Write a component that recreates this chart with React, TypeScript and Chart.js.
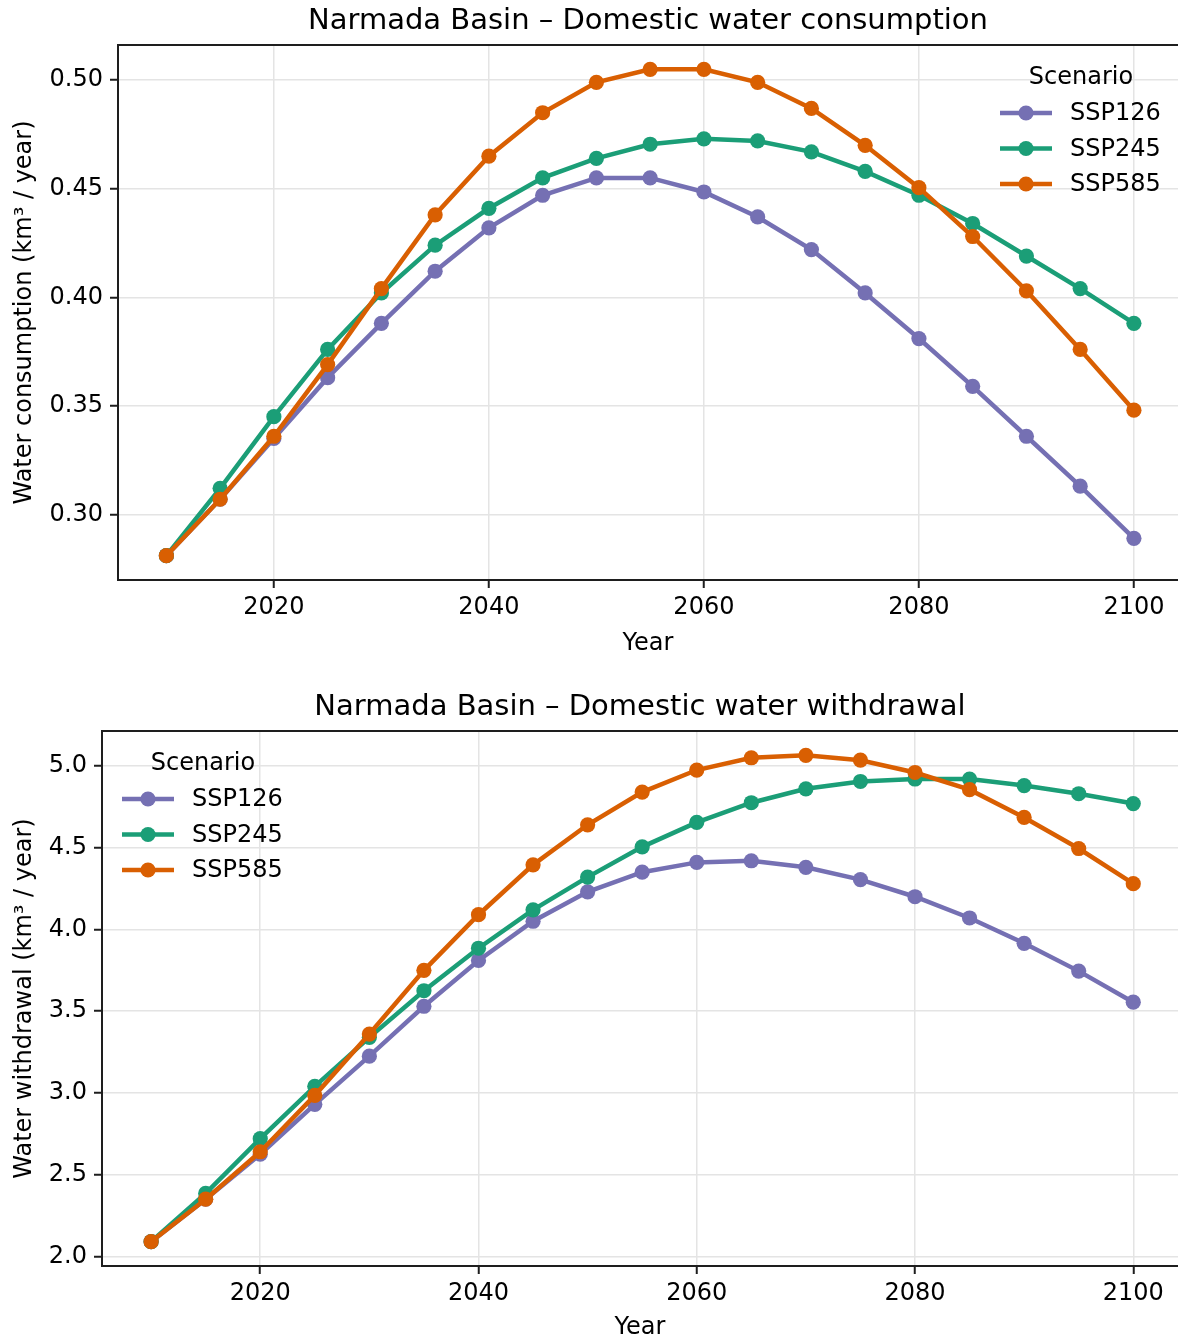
import React, { useEffect, useRef } from "react";
import { Chart, registerables } from "chart.js";

Chart.register(...registerables);

// Projection years and scenario series
const years = [2010, 2015, 2020, 2025, 2030, 2035, 2040, 2045, 2050, 2055, 2060, 2065, 2070, 2075, 2080, 2085, 2090, 2095, 2100];

const consumptionSSP126 = [0.281, 0.307, 0.335, 0.363, 0.388, 0.412, 0.432, 0.447, 0.455, 0.455, 0.4485, 0.437, 0.422, 0.402, 0.381, 0.359, 0.336, 0.313, 0.289];
const consumptionSSP245 = [0.281, 0.312, 0.345, 0.376, 0.402, 0.424, 0.441, 0.455, 0.464, 0.4705, 0.473, 0.472, 0.467, 0.458, 0.447, 0.434, 0.419, 0.404, 0.388];
const consumptionSSP585 = [0.281, 0.307, 0.336, 0.369, 0.404, 0.438, 0.465, 0.485, 0.499, 0.505, 0.505, 0.499, 0.487, 0.47, 0.4505, 0.428, 0.403, 0.376, 0.348];

const withdrawalSSP126 = [2.09, 2.35, 2.625, 2.93, 3.225, 3.53, 3.81, 4.05, 4.23, 4.35, 4.41, 4.42, 4.38, 4.305, 4.2, 4.07, 3.915, 3.745, 3.555];
const withdrawalSSP245 = [2.09, 2.385, 2.72, 3.04, 3.34, 3.625, 3.885, 4.12, 4.32, 4.505, 4.655, 4.775, 4.86, 4.905, 4.92, 4.92, 4.88, 4.83, 4.77];
const withdrawalSSP585 = [2.09, 2.35, 2.64, 2.985, 3.36, 3.75, 4.09, 4.395, 4.64, 4.84, 4.975, 5.05, 5.065, 5.035, 4.96, 4.855, 4.685, 4.495, 4.28];

const scenarioNames = ["SSP126", "SSP245", "SSP585"];
const scenarioColors = ["#7570b3", "#1b9e77", "#d95f02"];

const yearTicks = [2020, 2040, 2060, 2080, 2100];
const consumptionTicks = [0.3, 0.35, 0.4, 0.45, 0.5];
const withdrawalTicks = [2.0, 2.5, 3.0, 3.5, 4.0, 4.5, 5.0];

// Visible year window (the axes run slightly past 2100 to the page edge)
const yearMin = 2005.5;
const yearMax = 2104.1;

const FONT = '"DejaVu Sans", "Noto Sans", sans-serif';
const TEXT = "#000000";
const SPINE = "#1e1e1e";

// Axes frame: top, left and bottom edges
const framePlugin = {
  id: "frame",
  afterDatasetsDraw(chart: any) {
    const { ctx, chartArea: a } = chart;
    ctx.save();
    ctx.strokeStyle = SPINE;
    ctx.lineWidth = 2;
    ctx.beginPath();
    ctx.moveTo(chart.width + 2, a.top);
    ctx.lineTo(a.left, a.top);
    ctx.lineTo(a.left, a.bottom);
    ctx.lineTo(chart.width + 2, a.bottom);
    ctx.stroke();
    ctx.restore();
  },
};

// Scenario legend drawn inside the axes
const scenarioLegendPlugin = {
  id: "scenarioLegend",
  afterDraw(chart: any, _args: any, opts: any) {
    const { ctx, chartArea: a } = chart;
    const start = opts.side === "right" ? 1000 : a.left + 20;
    ctx.save();
    ctx.font = `24px ${FONT}`;
    ctx.fillStyle = TEXT;
    ctx.textBaseline = "middle";
    ctx.textAlign = "center";
    ctx.fillText(opts.title, start + 81, a.top + 33);
    ctx.textAlign = "left";
    chart.data.datasets.forEach((ds: any, i: number) => {
      const y = a.top + 68 + i * 35.5;
      ctx.strokeStyle = ds.borderColor;
      ctx.lineWidth = 4.5;
      ctx.beginPath();
      ctx.moveTo(start, y);
      ctx.lineTo(start + 52, y);
      ctx.stroke();
      ctx.fillStyle = ds.borderColor;
      ctx.beginPath();
      ctx.arc(start + 26, y, 7.6, 0, Math.PI * 2);
      ctx.fill();
      ctx.fillStyle = TEXT;
      ctx.fillText(ds.label, start + 70, y + 1);
    });
    ctx.restore();
  },
};

function paddedRange(series: number[][]) {
  const all = series.flat();
  const lo = Math.min(...all);
  const hi = Math.max(...all);
  const m = (hi - lo) * 0.05;
  return [lo - m, hi + m];
}

interface PanelSpec {
  title: string;
  yTitle: string;
  series: number[][];
  yTicks: number[];
  decimals: number;
  titleTop: number;
  titleBottom: number;
  yWidth: number;
  xHeight: number;
  xTitleBottom: number;
  legendSide: "left" | "right";
}

function buildConfig(p: PanelSpec): any {
  const [yMin, yMax] = paddedRange(p.series);
  const tickFont = { family: FONT, size: 24 };
  const grid = { color: "#e4e4e4", lineWidth: 1.5, tickColor: SPINE, tickWidth: 2, tickLength: 8 };
  return {
    type: "line",
    data: {
      datasets: p.series.map((vals, i) => ({
        label: scenarioNames[i],
        data: years.map((yr, j) => ({ x: yr, y: vals[j] })),
        borderColor: scenarioColors[i],
        backgroundColor: scenarioColors[i],
        pointBackgroundColor: scenarioColors[i],
        pointBorderWidth: 0,
        pointRadius: 7.6,
        borderWidth: 4.5,
        tension: 0,
        order: p.series.length - 1 - i,
      })),
    },
    options: {
      responsive: false,
      maintainAspectRatio: false,
      animation: false,
      devicePixelRatio: 1,
      events: [],
      layout: { padding: 0, autoPadding: false },
      plugins: {
        legend: { display: false },
        tooltip: { enabled: false },
        title: {
          display: true,
          fullSize: false,
          text: p.title,
          color: TEXT,
          font: { family: FONT, size: 29, weight: "normal" },
          padding: { top: p.titleTop, bottom: p.titleBottom },
        },
        scenarioLegend: { side: p.legendSide, title: "Scenario" },
      },
      scales: {
        x: {
          type: "linear",
          min: yearMin,
          max: yearMax,
          afterBuildTicks: (s: any) => {
            s.ticks = yearTicks.map((v) => ({ value: v }));
          },
          afterFit: (s: any) => {
            s.height = p.xHeight;
          },
          ticks: {
            font: tickFont,
            color: TEXT,
            padding: 5,
            maxRotation: 0,
            autoSkip: false,
            callback: (v: number) => String(v),
          },
          grid,
          border: { display: false },
          title: {
            display: true,
            text: "Year",
            color: TEXT,
            font: tickFont,
            padding: { top: 0, bottom: p.xTitleBottom },
          },
        },
        y: {
          type: "linear",
          min: yMin,
          max: yMax,
          afterBuildTicks: (s: any) => {
            s.ticks = p.yTicks.map((v) => ({ value: v }));
          },
          afterFit: (s: any) => {
            s.width = p.yWidth;
          },
          ticks: {
            font: tickFont,
            color: TEXT,
            padding: 7,
            autoSkip: false,
            callback: (v: number) => Number(v).toFixed(p.decimals),
          },
          grid,
          border: { display: false },
          title: {
            display: true,
            text: p.yTitle,
            color: TEXT,
            font: tickFont,
            padding: { top: 10, bottom: 0 },
          },
        },
      },
    },
    plugins: [framePlugin, scenarioLegendPlugin],
  };
}

const consumptionPanel: PanelSpec = {
  title: "Narmada Basin – Domestic water consumption",
  yTitle: "Water consumption (km³ / year)",
  series: [consumptionSSP126, consumptionSSP245, consumptionSSP585],
  yTicks: consumptionTicks,
  decimals: 2,
  titleTop: 4,
  titleBottom: 6.2,
  yWidth: 118,
  xHeight: 80,
  xTitleBottom: 2,
  legendSide: "right",
};

const withdrawalPanel: PanelSpec = {
  title: "Narmada Basin – Domestic water withdrawal",
  yTitle: "Water withdrawal (km³ / year)",
  series: [withdrawalSSP126, withdrawalSSP245, withdrawalSSP585],
  yTicks: withdrawalTicks,
  decimals: 1,
  titleTop: 30.5,
  titleBottom: 5.7,
  yWidth: 102,
  xHeight: 76,
  xTitleBottom: 0,
  legendSide: "left",
};

export default function App() {
  const topRef = useRef<HTMLCanvasElement | null>(null);
  const bottomRef = useRef<HTMLCanvasElement | null>(null);

  useEffect(() => {
    const charts: Chart[] = [];
    if (topRef.current) charts.push(new Chart(topRef.current, buildConfig(consumptionPanel)));
    if (bottomRef.current) charts.push(new Chart(bottomRef.current, buildConfig(withdrawalPanel)));
    return () => charts.forEach((c) => c.destroy());
  }, []);

  return (
    <div
      style={{
        position: "absolute",
        left: 0,
        top: 0,
        width: 1178,
        height: 1338,
        overflow: "hidden",
        background: "#ffffff",
      }}
    >
      <canvas ref={topRef} width={1178} height={660} style={{ position: "absolute", left: 0, top: 0 }} />
      <canvas ref={bottomRef} width={1178} height={682} style={{ position: "absolute", left: 0, top: 660 }} />
    </div>
  );
}
